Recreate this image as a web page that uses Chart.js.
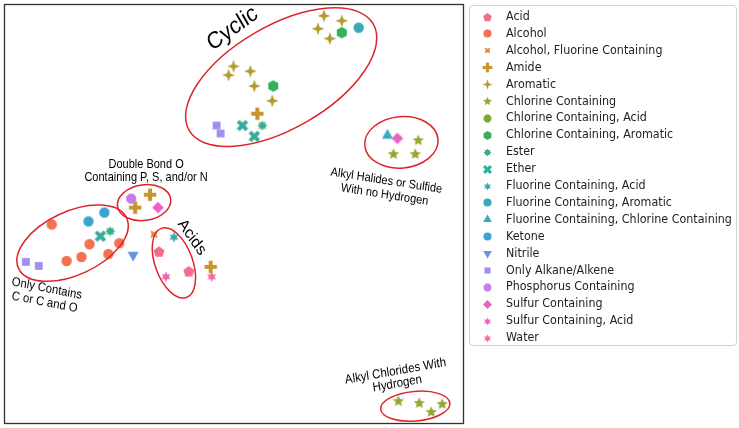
<!DOCTYPE html>
<html>
<head>
<meta charset="utf-8">
<script src="https://cdn.jsdelivr.net/npm/chart.js@4.4.0/dist/chart.umd.min.js"></script>
<style>
  html, body { margin: 0; padding: 0; background: #fff; }
  #wrap { position: relative; width: 739px; height: 428px; }
  #legenda {
    position: absolute; left: 469px; top: 5px; width: 268px; height: 341px;
    border: 1px solid #d0d0d0; border-radius: 4px; box-sizing: border-box;
    font-family: "DejaVu Sans", sans-serif; font-size: 11.15px; color: #222;
  }
  .item { position: absolute; left: 0; height: 16px; line-height: 16px; white-space: nowrap; }
  .item canvas { position: absolute; }
  .item span { position: absolute; left: 36px; transform: scaleY(1.1); transform-origin: left center; }
</style>
</head>
<body>
<div id="wrap">
  <canvas id="grafico" width="739" height="428"></canvas>
  <div id="legenda"></div>
</div>
<script>
// categorias e pontos (coordenadas)
const categorias = [
  'Acid', 'Alcohol', 'Alcohol, Fluorine Containing', 'Amide', 'Aromatic',
  'Chlorine Containing', 'Chlorine Containing, Acid', 'Chlorine Containing, Aromatic',
  'Ester', 'Ether', 'Fluorine Containing, Acid', 'Fluorine Containing, Aromatic',
  'Fluorine Containing, Chlorine Containing', 'Ketone', 'Nitrile', 'Only Alkane/Alkene',
  'Phosphorus Containing', 'Sulfur Containing', 'Sulfur Containing, Acid', 'Water'
];

const valoresX = [
  [157, 187],
  [49, 87, 117, 106, 79, 64],
  [152],
  [256, 148, 133, 209],
  [323, 341, 317, 329, 232, 227, 249, 253, 271],
  [418, 393, 415, 398, 419, 442, 431],
  [],
  [341, 272],
  [261, 108],
  [241, 253, 98],
  [172],
  [358],
  [387],
  [86, 102],
  [131],
  [215, 219, 23, 36],
  [129],
  [156, 397],
  [164],
  [210]
];

const valoresY = [
  [252, 272],
  [224, 244, 243, 254, 257, 261],
  [234],
  [112, 194, 207, 267],
  [13, 18, 26, 36, 64, 73, 69, 84, 99],
  [139, 153, 153, 403, 405, 406, 414],
  [],
  [30, 84],
  [124, 231],
  [124, 135, 236],
  [237],
  [25],
  [134],
  [221, 212],
  [255],
  [124, 132, 262, 266],
  [198],
  [207, 137],
  [277],
  [277]
];

const cores = [
  '#f26e8b', '#f2724f', '#dc8836', '#c8962f', '#b09c31',
  '#99a532', '#7dab32', '#36b05a', '#34ae88', '#35ad9c',
  '#36aca8', '#37abb8', '#38a9c6', '#39a5d2', '#6a94dc',
  '#a48cf0', '#c97af0', '#ee5fc6', '#f262b8', '#f46aa6'
];

const formas = [
  'pentagono', 'circulo', 'xestrela', 'mais', 'estrela4',
  'estrela5', 'octogono', 'hexagono', 'estrela8', 'xis',
  'estrela6', 'circulo', 'triangulo', 'circulo', 'trianguloBaixo',
  'quadrado', 'octogono', 'losango', 'estrela6', 'estrela6'
];

// elipses e rotulos da figura
const elipses = [
  { cx: 280, cy: 75, rx: 107, ry: 52, rot: -30 },
  { cx: 142, cy: 202, rx: 27, ry: 18, rot: -8 },
  { cx: 70, cy: 243, rx: 60, ry: 32, rot: -25 },
  { cx: 172, cy: 263, rx: 37, ry: 19, rot: 70 },
  { cx: 401, cy: 141, rx: 37, ry: 26, rot: -5 },
  { cx: 415, cy: 408, rx: 35, ry: 15, rot: -5 }
];

const rotulos = [
  { x: 231, y: 26, linhas: ['Cyclic'], rot: -33, tam: 21, lh: 0 },
  { x: 144, y: 170, linhas: ['Double Bond O', 'Containing P, S, and/or N'], rot: 0, tam: 11, lh: 13 },
  { x: 43, y: 296, linhas: ['Only Contains', 'C or C and O'], rot: 10, tam: 11.3, lh: 14 },
  { x: 190, y: 237, linhas: ['Acids'], rot: 52, tam: 15, lh: 0 },
  { x: 385, y: 187, linhas: ['Alkyl Halides or Sulfide', 'With no Hydrogen'], rot: 8, tam: 11, lh: 14 },
  { x: 396, y: 379, linhas: ['Alkyl Chlorides With', 'Hydrogen'], rot: -9, tam: 11.5, lh: 12.5 }
];

function poligono(ctx, n, r, rot) {
  ctx.beginPath();
  for (let i = 0; i < n; i++) {
    const a = rot + i * 2 * Math.PI / n;
    ctx.lineTo(r * Math.cos(a), r * Math.sin(a));
  }
  ctx.closePath();
  ctx.fill();
}

function estrela(ctx, n, r, ri, rot) {
  ctx.beginPath();
  for (let i = 0; i < 2 * n; i++) {
    const a = rot + i * Math.PI / n;
    const rr = i % 2 === 0 ? r : ri;
    ctx.lineTo(rr * Math.cos(a), rr * Math.sin(a));
  }
  ctx.closePath();
  ctx.fill();
}

function cruz(ctx, r, w, rot) {
  ctx.save();
  ctx.rotate(rot);
  ctx.fillRect(-r, -w, 2 * r, 2 * w);
  ctx.fillRect(-w, -r, 2 * w, 2 * r);
  ctx.restore();
}

function criarMarcador(forma, cor, escala) {
  const tam = Math.ceil(16 * escala);
  const c = document.createElement('canvas');
  c.width = tam;
  c.height = tam;
  const ctx = c.getContext('2d');
  ctx.translate(tam / 2, tam / 2);
  ctx.scale(escala, escala);
  ctx.fillStyle = cor;
  const up = -Math.PI / 2;
  switch (forma) {
    case 'circulo': ctx.beginPath(); ctx.arc(0, 0, 5.2, 0, 2 * Math.PI); ctx.fill(); break;
    case 'octogono': poligono(ctx, 8, 5.4, Math.PI / 8); break;
    case 'pentagono': poligono(ctx, 5, 5.8, up); break;
    case 'hexagono': poligono(ctx, 6, 5.8, up); break;
    case 'quadrado': ctx.fillRect(-3.9, -3.9, 7.8, 7.8); break;
    case 'losango': poligono(ctx, 4, 5.8, 0); break;
    case 'triangulo': poligono(ctx, 3, 6.4, up); break;
    case 'trianguloBaixo': poligono(ctx, 3, 6.4, Math.PI / 2); break;
    case 'estrela4': estrela(ctx, 4, 6.4, 2.3, up); break;
    case 'estrela5': estrela(ctx, 5, 6, 2.7, up); break;
    case 'estrela6': estrela(ctx, 6, 5.2, 2.7, up); break;
    case 'estrela8': estrela(ctx, 8, 5.2, 3.1, up); break;
    case 'xestrela': estrela(ctx, 4, 5.2, 2.3, Math.PI / 4); break;
    case 'mais': cruz(ctx, 6.2, 2, 0); break;
    case 'xis': cruz(ctx, 6.2, 2, Math.PI / 4); break;
  }
  return c;
}

const marcadores = categorias.map((_, i) => criarMarcador(formas[i], cores[i], 1));

const conjuntos = categorias.map((nome, i) => ({
  label: nome,
  data: valoresX[i].map((x, j) => ({ x: x, y: valoresY[i][j] })),
  pointStyle: marcadores[i],
  backgroundColor: cores[i],
  borderColor: cores[i]
}));

const anotacoes = {
  id: 'anotacoes',
  afterDraw(chart) {
    const ctx = chart.ctx;
    const sx = chart.scales.x;
    const sy = chart.scales.y;
    const area = chart.chartArea;

    ctx.save();
    ctx.strokeStyle = '#333';
    ctx.lineWidth = 1.3;
    ctx.strokeRect(area.left - 0.5, area.top - 0.5, area.right - area.left + 1, area.bottom - area.top + 1);

    ctx.strokeStyle = '#e0242b';
    ctx.lineWidth = 1.5;
    elipses.forEach(e => {
      const px = sx.getPixelForValue(e.cx);
      const py = sy.getPixelForValue(e.cy);
      const rx = Math.abs(sx.getPixelForValue(e.cx + e.rx) - px);
      const ry = Math.abs(sy.getPixelForValue(e.cy + e.ry) - py);
      ctx.beginPath();
      ctx.ellipse(px, py, rx, ry, e.rot * Math.PI / 180, 0, 2 * Math.PI);
      ctx.stroke();
    });

    // o texto da figura original parece esticado na vertical
    ctx.fillStyle = '#000';
    ctx.textAlign = 'center';
    ctx.textBaseline = 'middle';
    rotulos.forEach(r => {
      ctx.save();
      ctx.translate(sx.getPixelForValue(r.x), sy.getPixelForValue(r.y));
      ctx.scale(1, 1.12);
      ctx.rotate(r.rot * Math.PI / 180);
      ctx.font = r.tam + 'px "Liberation Sans", Arial, sans-serif';
      const n = r.linhas.length;
      r.linhas.forEach((t, i) => {
        ctx.fillText(t, 0, (i - (n - 1) / 2) * r.lh / 1.12);
      });
      ctx.restore();
    });
    ctx.restore();
  }
};

new Chart(document.getElementById('grafico').getContext('2d'), {
  type: 'scatter',
  data: { datasets: conjuntos },
  options: {
    responsive: false,
    animation: false,
    layout: { padding: { left: 2, top: 2, right: 276, bottom: 3 } },
    scales: {
      x: { type: 'linear', min: 2, max: 463, display: false },
      y: { type: 'linear', min: 2, max: 425, reverse: true, display: false }
    },
    plugins: {
      legend: { display: false },
      tooltip: { enabled: false }
    }
  },
  plugins: [anotacoes]
});

// legenda em HTML
const legenda = document.getElementById('legenda');
categorias.forEach((nome, i) => {
  const item = document.createElement('div');
  item.className = 'item';
  item.style.top = (3 + i * 16.9) + 'px';
  const mc = criarMarcador(formas[i], cores[i], 0.78);
  mc.style.left = (17 - mc.width / 2) + 'px';
  mc.style.top = (8 - mc.height / 2) + 'px';
  const txt = document.createElement('span');
  txt.textContent = nome;
  item.appendChild(mc);
  item.appendChild(txt);
  legenda.appendChild(item);
});
</script>
</body>
</html>
